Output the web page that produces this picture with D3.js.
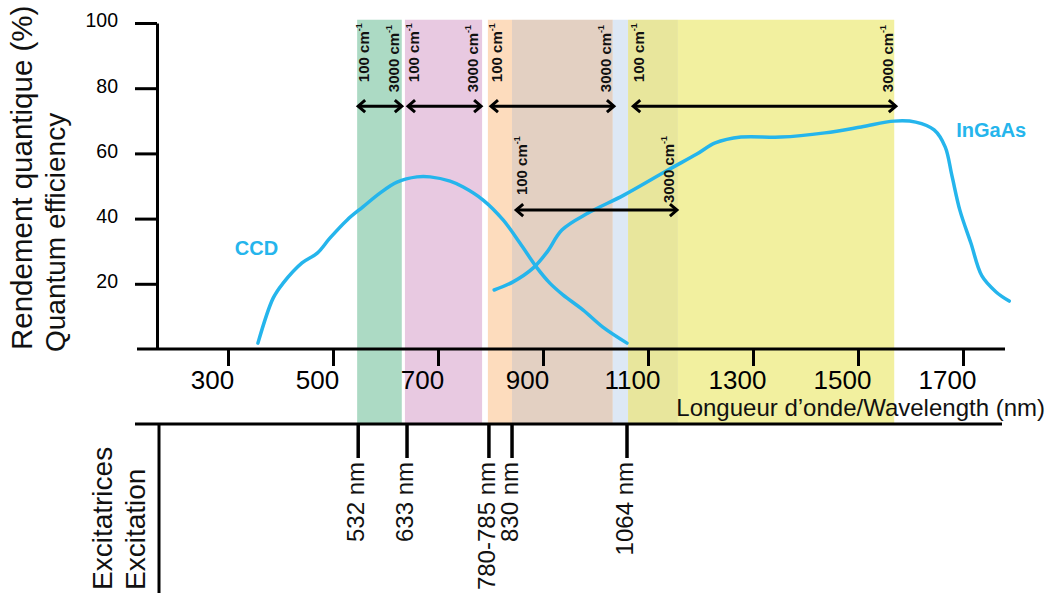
<!DOCTYPE html>
<html>
<head>
<meta charset="utf-8">
<script src="https://cdn.jsdelivr.net/npm/d3@7"></script>
<style>
  body { margin: 0; background: #fff; }
  text { font-family: "Liberation Sans", Arial, sans-serif; }
</style>
</head>
<body>
<div id="chart"></div>
<script>
// Data
const waveTicks = [300, 500, 700, 900, 1100, 1300, 1500, 1700];
const qeTicks = [20, 40, 60, 80, 100];

const ccdWave = [357, 386, 405, 441, 470, 494, 527, 557, 590, 622, 660, 685, 723, 748, 786, 824, 856, 889, 913, 938, 976, 1014, 1060];
const ccdQE   = [1.8, 15.6, 20.2, 26.4, 29.4, 34, 39.6, 43.6, 47.9, 51.2, 52.8, 52.8, 51.5, 49.7, 45.7, 39.6, 32.5, 24.8, 20.2, 16.6, 12, 6.7, 1.8];

const ingaasWave = [807, 843, 881, 908, 936, 986, 1054, 1138, 1193, 1228, 1277, 1353, 1437, 1506, 1569, 1610, 1645, 1666, 1679, 1694, 1715, 1736, 1763, 1788];
const ingaasQE   = [18.1, 20.6, 24.8, 29.8, 36.5, 41.7, 47.2, 54.9, 59.8, 63.2, 65, 65, 66.3, 68.1, 69.9, 69.6, 67.2, 62, 53.1, 42.6, 32.5, 22.4, 17.5, 14.7];

// Raman windows (nm)
const bandStart = [546, 637, 795, 841, 1033, 1062, 1157];
const bandEnd   = [631, 784, 841, 1033, 1062, 1157, 1569];
const bandColors = ["#acdac4", "#e8c9e1", "#fddcbd", "#e3d0c2", "#dde8f5", "#e8e69c", "#f2f09f"];

// 100 cm-1 -> 3000 cm-1 arrows
const arrowFrom = [546, 641, 799, 1070, 847];
const arrowTo   = [633, 784, 1037, 1574, 1157];
const arrowQE   = [74.5, 74.5, 74.5, 74.5, 42.6];

// excitation lasers
const laserLabels = ["532 nm", "633 nm", "780-785 nm", "830 nm", "1064 nm"];
const laserPos    = [548, 641, 797, 841, 1060];

const W = 1049, H = 597;
const blue = "#25b5ec";

const svg = d3.select("#chart")
              .append("svg")
              .attr("width", W)
              .attr("height", H);

const xScale = d3.scaleLinear().domain([300, 1700]).range([228, 963]);
const yScale = d3.scaleLinear().domain([0, 100]).range([349, 23]);

const axisX0 = 157;      // y axis position
const axisX1 = 1005;     // end of wavelength axis
const excY = 424;        // excitation axis

// Bands
svg.selectAll("rect.band")
   .data(bandStart)
   .enter()
   .append("rect")
   .attr("class", "band")
   .attr("x", (d, i) => xScale(d))
   .attr("width", (d, i) => xScale(bandEnd[i]) - xScale(d))
   .attr("y", yScale(101))
   .attr("height", excY - yScale(101))
   .attr("fill", (d, i) => bandColors[i]);

// Y axis
const yAxis = svg.append("g")
                 .attr("transform", `translate(${axisX0},0)`)
                 .call(d3.axisLeft(yScale)
                   .tickValues(qeTicks)
                   .tickSize(22)
                   .tickPadding(17)
                   .tickSizeOuter(0));
yAxis.select(".domain").attr("stroke-width", 3);
yAxis.selectAll(".tick line").attr("stroke-width", 3);
yAxis.selectAll(".tick text")
     .attr("font-size", 19.5)
     .attr("font-family", "Liberation Sans, Arial, sans-serif")
     .attr("dy", "0.2em");

// X axis
const xAxis = svg.append("g")
                 .attr("transform", `translate(0,${yScale(0)})`)
                 .call(d3.axisBottom(xScale)
                   .tickValues(waveTicks)
                   .tickFormat(d3.format("d"))
                   .tickSize(17)
                   .tickPadding(5));
xAxis.select(".domain").remove();
xAxis.selectAll(".tick line").attr("stroke-width", 3);
xAxis.selectAll(".tick text")
     .attr("font-size", 26)
     .attr("font-family", "Liberation Sans, Arial, sans-serif")
     .attr("dx", -16);
xAxis.append("line")
     .attr("x1", axisX0 - 20)
     .attr("x2", axisX1)
     .attr("stroke", "#000")
     .attr("stroke-width", 3);

svg.append("text")
   .attr("x", axisX1 + 40)
   .attr("y", 416)
   .attr("text-anchor", "end")
   .attr("font-size", 24)
   .attr("fill", "#111")
   .text("Longueur d\u2019onde/Wavelength (nm)");

// Y title
svg.append("text")
   .attr("transform", "translate(32,350) rotate(-90)")
   .attr("font-size", 29.5)
   .attr("fill", "#111")
   .text("Rendement quantique (%)");
svg.append("text")
   .attr("transform", "translate(65,352) rotate(-90)")
   .attr("font-size", 28)
   .attr("fill", "#111")
   .text("Quantum efficiency");

// Curves
const line = d3.line()
               .x(d => xScale(d[0]))
               .y(d => yScale(d[1]))
               .curve(d3.curveCatmullRom.alpha(0.5));

svg.append("path")
   .datum(d3.zip(ccdWave, ccdQE))
   .attr("fill", "none")
   .attr("stroke", blue)
   .attr("stroke-width", 3.5)
   .attr("stroke-linecap", "round")
   .attr("d", line);

svg.append("path")
   .datum(d3.zip(ingaasWave, ingaasQE))
   .attr("fill", "none")
   .attr("stroke", blue)
   .attr("stroke-width", 3.5)
   .attr("stroke-linecap", "round")
   .attr("d", line);

svg.append("text")
   .attr("x", xScale(313))
   .attr("y", yScale(28.8))
   .attr("font-size", 20)
   .attr("font-weight", "bold")
   .attr("fill", blue)
   .text("CCD");

svg.append("text")
   .attr("x", xScale(1687))
   .attr("y", yScale(65))
   .attr("font-size", 20)
   .attr("font-weight", "bold")
   .attr("fill", blue)
   .text("InGaAs");

// Arrows with cm-1 labels
function cmLabel(x, y, value) {
    const t = svg.append("text")
                 .attr("transform", `translate(${x},${y}) rotate(-90)`)
                 .attr("font-size", 15)
                 .attr("font-weight", "bold")
                 .attr("fill", "#111")
                 .text(value + " cm");
    t.append("tspan")
     .attr("font-size", 9)
     .attr("dy", -7)
     .text("-1");
}

arrowFrom.forEach((from, i) => {
    const x1 = xScale(from), x2 = xScale(arrowTo[i]), y = yScale(arrowQE[i]);
    const g = svg.append("g")
                 .attr("stroke", "#000")
                 .attr("stroke-width", 3)
                 .attr("fill", "none");
    g.append("line").attr("x1", x1 + 1).attr("x2", x2 - 1).attr("y1", y).attr("y2", y);
    g.append("path").attr("d", `M${x1 + 8},${y - 6}L${x1 + 1},${y}L${x1 + 8},${y + 6}`);
    g.append("path").attr("d", `M${x2 - 8},${y - 6}L${x2 - 1},${y}L${x2 - 8},${y + 6}`);

    const low = i < 4 ? 24 : 15;
    const high = i < 4 ? 14 : 7;
    cmLabel(x1 + 12, y - low, "100");
    cmLabel(x2 - 4, y - high, "3000");
});

// Excitation section
svg.append("line")
   .attr("x1", axisX0 - 22)
   .attr("x2", axisX1 - 3)
   .attr("y1", excY)
   .attr("y2", excY)
   .attr("stroke", "#000")
   .attr("stroke-width", 3);
svg.append("line")
   .attr("x1", axisX0 + 2)
   .attr("x2", axisX0 + 2)
   .attr("y1", excY)
   .attr("y2", 593)
   .attr("stroke", "#000")
   .attr("stroke-width", 3);

const lasers = svg.selectAll("g.laser")
                  .data(laserPos)
                  .enter()
                  .append("g")
                  .attr("class", "laser")
                  .attr("transform", d => `translate(${xScale(d)},${excY})`);
lasers.append("line")
      .attr("y2", 34)
      .attr("stroke", "#000")
      .attr("stroke-width", 3.5);
lasers.append("text")
      .attr("transform", "translate(6,38) rotate(-90)")
      .attr("text-anchor", "end")
      .attr("font-size", 24)
      .attr("fill", "#111")
      .text((d, i) => laserLabels[i]);

svg.append("text")
   .attr("transform", "translate(112,590) rotate(-90)")
   .attr("font-size", 28)
   .attr("fill", "#111")
   .text("Excitatrices");
svg.append("text")
   .attr("transform", "translate(145,590) rotate(-90)")
   .attr("font-size", 28)
   .attr("fill", "#111")
   .text("Excitation");
</script>
</body>
</html>
